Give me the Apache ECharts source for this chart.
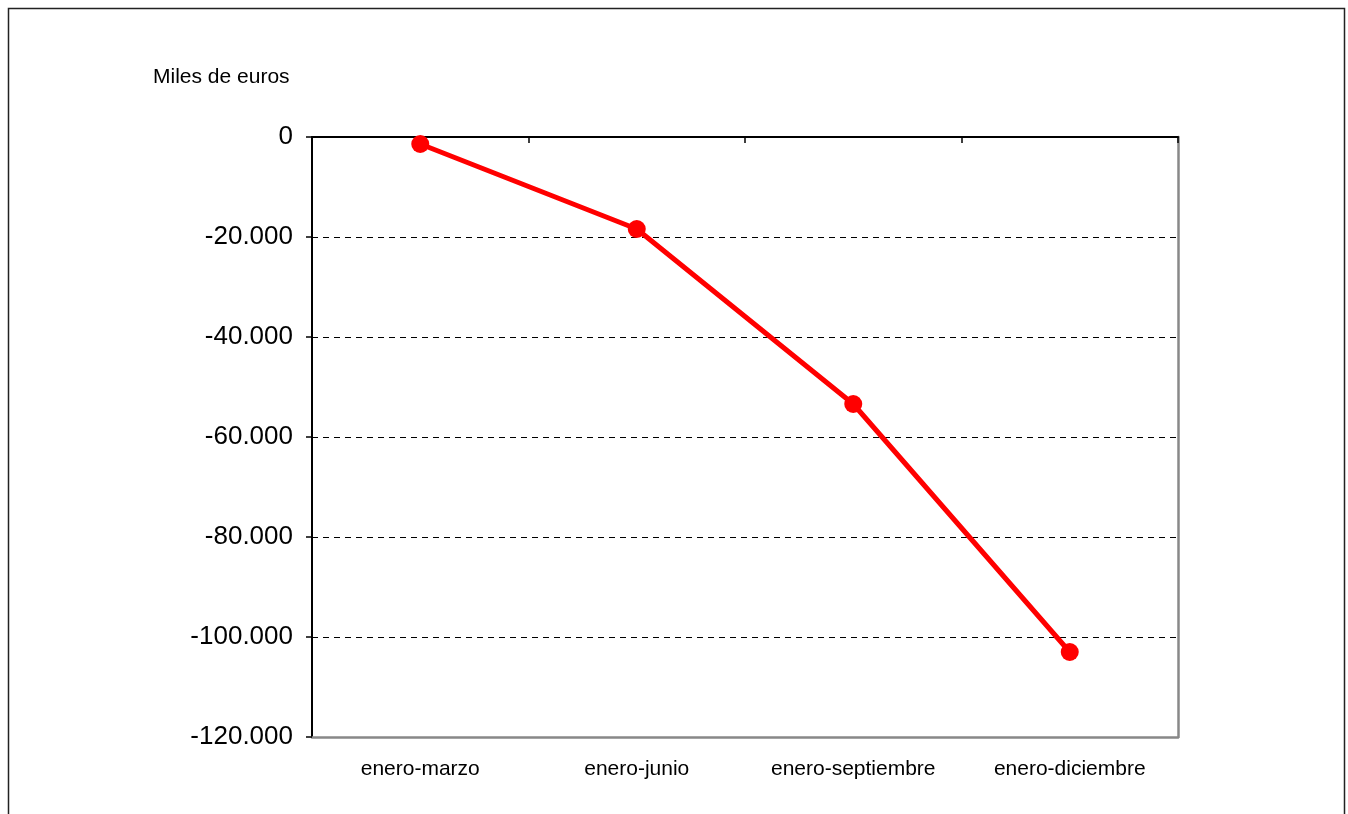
<!DOCTYPE html>
<html>
<head>
<meta charset="utf-8">
<script src="https://cdn.jsdelivr.net/npm/echarts@6/dist/echarts.min.js"></script>
<style>
  html, body { margin: 0; padding: 0; background: #fff; }
  #chart { width: 1348px; height: 814px; }
</style>
</head>
<body>
<div id="chart"></div>
<script>
  var periodos = ['enero-marzo', 'enero-junio', 'enero-septiembre', 'enero-diciembre'];
  var saldo = [-1400, -18400, -53400, -103000];
  var unidad = 'Miles de euros';

  function fmtMiles(v) {
    var s = Math.abs(v).toString().replace(/\B(?=(\d{3})+(?!\d))/g, '.');
    return (v < 0 ? '-' : '') + s;
  }

  var chart = echarts.init(document.getElementById('chart'));
  var font = 'Liberation Sans, Arial, sans-serif';

  var option = {
    animation: false,
    backgroundColor: '#fff',
    graphic: [{
      type: 'rect',
      shape: { x: 8.5, y: 8.5, width: 1336, height: 830 },
      style: { fill: 'none', stroke: '#222', lineWidth: 1.5 }
    }, {
      type: 'text',
      left: 153, top: 67,
      style: { text: unidad, fontSize: 21, fontFamily: font, fill: '#000' }
    }],
    grid: { left: 312, top: 137, width: 866, height: 600, show: false },
    xAxis: [{
      type: 'category',
      data: periodos,
      position: 'bottom',
      axisLine: { onZero: false, lineStyle: { color: '#888', width: 2.5 } },
      axisTick: { show: false },
      axisLabel: { fontSize: 21, color: '#000', fontFamily: font, margin: 22 },
      splitLine: { show: false }
    }, {
      type: 'category',
      data: periodos,
      position: 'top',
      axisLine: { onZero: false, lineStyle: { color: '#000', width: 2 } },
      axisTick: { show: true, inside: true, length: 6, lineStyle: { color: '#000', width: 1.5 } },
      axisLabel: { show: false }
    }],
    yAxis: [{
      type: 'value',
      min: -120000, max: 0, interval: 20000,
      axisLine: { show: true, lineStyle: { color: '#000', width: 2 } },
      axisTick: { show: true, length: 6, lineStyle: { color: '#000', width: 1.5 } },
      axisLabel: { fontSize: 26, color: '#000', fontFamily: font, margin: 19, formatter: fmtMiles },
      splitLine: { show: true, showMinLine: false, showMaxLine: false, lineStyle: { color: '#000', type: [6, 5], width: 1 } }
    }, {
      type: 'value',
      min: -120000, max: 0, interval: 20000,
      position: 'right',
      axisLine: { show: true, lineStyle: { color: '#888', width: 2.5 } },
      axisTick: { show: false },
      axisLabel: { show: false },
      splitLine: { show: false }
    }],
    series: [{
      type: 'line',
      data: saldo,
      xAxisIndex: 0,
      yAxisIndex: 0,
      symbol: 'circle',
      symbolSize: 18,
      lineStyle: { color: '#ff0000', width: 5 },
      itemStyle: { color: '#ff0000' }
    }]
  };
  chart.setOption(option);
</script>
</body>
</html>
